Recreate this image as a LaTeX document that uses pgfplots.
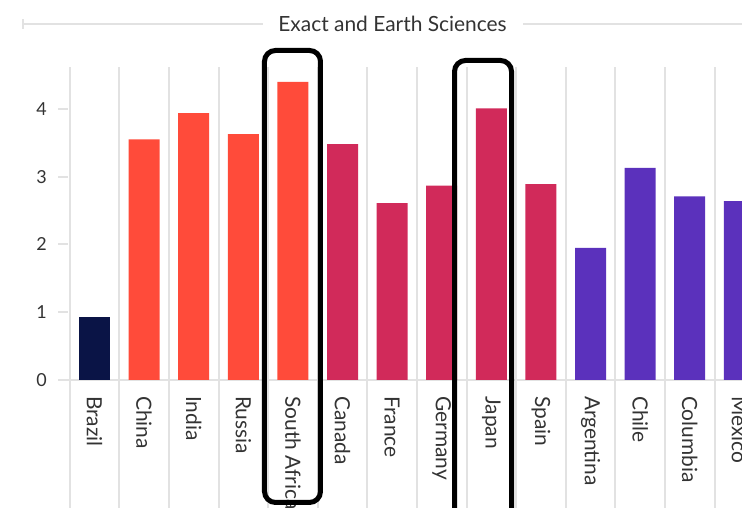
\documentclass[border=0pt]{standalone}
\usepackage{pgfplots}
\pgfplotsset{compat=1.18}
\usepackage{fontspec}
\setmainfont{Lato}

\definecolor{navy}{HTML}{0A1446}
\definecolor{coral}{HTML}{FF4B3A}
\definecolor{crimson}{HTML}{D12A5A}
\definecolor{violet}{HTML}{5B31BC}
\definecolor{gridgray}{HTML}{E2E2E2}
\definecolor{txt}{HTML}{333333}

\begin{document}
\begin{tikzpicture}[x=1bp,y=1bp]
\useasboundingbox (0,0) rectangle (742,508);
\clip (0,0) rectangle (742,508);

% title flanked by rules
\draw[gridgray, line width=2bp] (23,484) -- (263,484);
\draw[gridgray, line width=1.5bp] (23,479) -- (23,489);
\draw[gridgray, line width=2bp] (523,484) -- (742,484);
\node[font=\fontsize{21}{24}\selectfont, text=txt] at (392.5,484) {Exact and Earth Sciences};

\begin{axis}[
  at={(58bp,128bp)}, anchor=south west,
  scale only axis, width=684bp, height=313bp,
  xmin=-0.736, xmax=13.054, ymin=0, ymax=4.62,
  axis x line*=bottom, axis y line*=left,
  x axis line style={gridgray, line width=2bp, -},
  y axis line style={draw=none},
  xtick={0,...,13},
  xticklabels={Brazil,China,India,Russia,South Africa,Canada,France,Germany,Japan,Spain,Argentina,Chile,Columbia,Mexico},
  major x tick style={draw=none},
  ytick={0,...,4},
  major y tick style={gridgray, line width=2bp},
  tick align=inside, major tick length=10bp,
  xticklabel style={rotate=-90, anchor=west, inner sep=0pt, xshift=16bp,
    font=\fontsize{21}{24}\selectfont, text=txt},
  yticklabel style={inner sep=0pt, xshift=-11bp,
    font=\fontsize{18}{21}\selectfont, text=txt},
  /pgf/number format/assume math mode=true,
  clip=false,
]
% category separators running through the label area
\pgfplotsinvokeforeach{-0.5,0.5,...,12.5}{
  \draw[gridgray, line width=2bp] (axis cs:#1,-2) -- (axis cs:#1,4.62);
}

\addplot[ybar, bar width=31bp, fill=navy, draw=none] coordinates {(0,0.93)};
\addplot[ybar, bar width=31bp, fill=coral, draw=none] coordinates {
  (1,3.55) (2,3.94) (3,3.63) (4,4.40)};
\addplot[ybar, bar width=31bp, fill=crimson, draw=none] coordinates {
  (5,3.48) (6,2.61) (7,2.87) (8,4.01) (9,2.89)};
\addplot[ybar, bar width=31bp, fill=violet, draw=none] coordinates {
  (10,1.95) (11,3.13) (12,2.71) (13,2.64)};

% highlight frames
\draw[black, line width=5bp, rounded corners=11bp]
  (axis cs:3.427,-1.808) rectangle (axis cs:4.556,4.864);
\draw[black, line width=5bp, rounded corners=11bp]
  (axis cs:7.258,-2.1) rectangle (axis cs:8.407,4.716);
\end{axis}
\end{tikzpicture}
\end{document}
